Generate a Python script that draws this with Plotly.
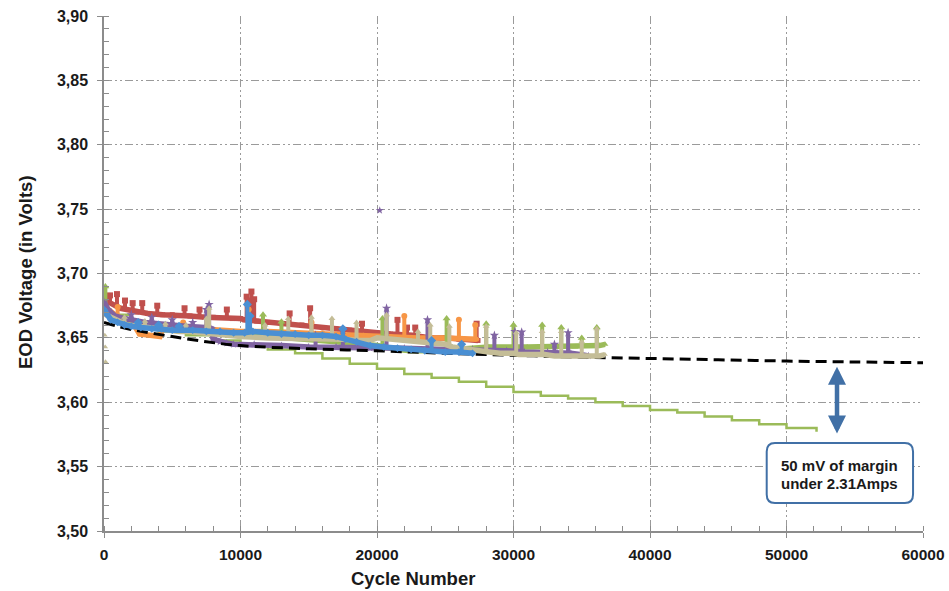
import numpy as np
import plotly.graph_objects as go

# ---------------- data ----------------
x_tick_values = [0, 10000, 20000, 30000, 40000, 50000, 60000]
x_tick_labels = ["0", "10000", "20000", "30000", "40000", "50000", "60000"]
y_tick_values = [3.50, 3.55, 3.60, 3.65, 3.70, 3.75, 3.80, 3.85, 3.90]
y_tick_labels = ["3,50", "3,55", "3,60", "3,65", "3,70", "3,75", "3,80", "3,85", "3,90"]

# --- red series: band + spikes
red_cycles = [0, 300, 1200, 2400, 3200, 4300, 5000, 6300, 7400, 8000, 9400, 10000, 10300, 11200, 12000,
              13000, 14500, 16000, 17000, 18000, 20000, 21000, 22500, 23200, 24000, 25000, 26000, 27400]
red_volts = [3.685, 3.678, 3.673, 3.670, 3.669, 3.668, 3.668, 3.667, 3.666, 3.666, 3.665, 3.665, 3.664, 3.663, 3.662,
             3.661, 3.660, 3.658, 3.657, 3.656, 3.654, 3.653, 3.652, 3.651, 3.650, 3.650, 3.649, 3.648]
red_spike_cycles = [440, 950, 1540, 2100, 2800, 3900, 5900, 7000, 9000, 10450, 10650, 10800, 11000, 13600,
                    15100, 18900, 21500, 22200, 22800, 27300]
red_spike_volts = [3.683, 3.684, 3.679, 3.677, 3.677, 3.675, 3.673, 3.672, 3.672, 3.682, 3.679, 3.686, 3.680, 3.669,
                   3.673, 3.661, 3.664, 3.658, 3.658, 3.661]

# --- orange series
orange_cycles = [0, 300, 800, 1500, 2200, 2600, 4100, 4300, 5000, 7000, 8000, 10000, 12000, 14000, 16000,
                 17000, 19000, 21000, 23000, 25000, 27300]
orange_volts = [3.676, 3.672, 3.668, 3.664, 3.660, 3.653, 3.651, 3.657, 3.658, 3.657, 3.656, 3.655, 3.655, 3.654, 3.654,
                3.653, 3.652, 3.651, 3.650, 3.650, 3.649]
orange_spike_cycles = [1000, 5800, 10600, 15200, 22000, 26000, 27200]
orange_spike_volts = [3.674, 3.662, 3.672, 3.662, 3.667, 3.664, 3.660]

# --- green marker series
green_cycles = [0, 500, 1000, 2000, 3000, 4000, 5000, 6000, 7000, 9000, 11000, 12500, 14000, 15000, 16000,
                17000, 18000, 19000, 20000, 21500, 22500, 24500, 26000, 27000, 28200, 31000, 34500, 36300, 36700]
green_volts = [3.675, 3.668, 3.664, 3.661, 3.659, 3.657, 3.656, 3.655, 3.654, 3.653, 3.652, 3.651, 3.650, 3.649, 3.648,
               3.647, 3.646, 3.645, 3.644, 3.641, 3.640, 3.640, 3.641, 3.642, 3.643, 3.643, 3.643, 3.644, 3.645]
green_spike_cycles = [100, 11650, 13000, 20400, 25100, 28000, 30000, 32100, 33500, 35000, 36100]
green_spike_volts = [3.690, 3.668, 3.6625, 3.665, 3.665, 3.661, 3.660, 3.660, 3.658, 3.650, 3.658]

# --- purple series
purple_cycles = [0, 300, 800, 1500, 3000, 4500, 6000, 7400, 7900, 8000, 8500, 9000, 9500, 11000, 13000, 15000,
                 17000, 19500, 22000, 25000, 27000, 28000, 29500, 30800, 32500, 33200, 34200, 35000, 35500]
purple_volts = [3.678, 3.672, 3.667, 3.665, 3.662, 3.660, 3.659, 3.658, 3.657, 3.649, 3.647, 3.646, 3.645, 3.645,
                3.644, 3.643, 3.643, 3.642, 3.642, 3.641, 3.641, 3.640, 3.640, 3.639, 3.639, 3.638, 3.638,
                3.637, 3.636]
purple_spike_cycles = [2000, 3500, 5000, 6500, 7500, 7700, 15500, 17500, 20700, 23700, 28600, 30100, 30600,
                       33000, 34000]
purple_spike_volts = [3.668, 3.666, 3.664, 3.662, 3.672, 3.676, 3.652, 3.656, 3.673, 3.664, 3.652, 3.655, 3.6545,
                      3.645, 3.654]
purple_outlier_cycles = [20200]
purple_outlier_volts = [3.749]

# --- tan series
tan_cycles = [0, 150, 500, 1000, 1700, 2500, 3200, 4000, 4700, 5500, 6200, 7000, 8100, 9000, 10000, 12000,
              14500, 16000, 17500, 18700, 19500, 20000, 22500, 23200, 24100, 25000, 25500, 26500, 27500,
              28200, 29000, 30000, 30400, 32300, 33000, 36300, 36700]
tan_volts = [3.672, 3.668, 3.666, 3.663, 3.660, 3.659, 3.658, 3.657, 3.656, 3.655, 3.655, 3.654, 3.653, 3.652, 3.651,
             3.650, 3.650, 3.649, 3.649, 3.648, 3.648, 3.650, 3.648, 3.647, 3.646, 3.645, 3.643, 3.641, 3.640,
             3.639, 3.638, 3.638, 3.637, 3.637, 3.636, 3.636, 3.637]
tan_spike_cycles = [1500, 3000, 4500, 6000, 7500, 7700, 11800, 13500, 15200, 16700, 18500, 20700, 23000,
                    23900, 25300, 28000, 30200, 32100, 33500, 35000, 36100]
tan_spike_volts = [3.666, 3.663, 3.661, 3.660, 3.665, 3.673, 3.660, 3.665, 3.666, 3.665, 3.662, 3.668, 3.655,
                   3.660, 3.659, 3.659, 3.654, 3.655, 3.655, 3.647, 3.657]
tan_outlier_cycles = [60, 90, 110]
tan_outlier_volts = [3.652, 3.643, 3.6315]

# --- blue series
blue_cycles = [0, 200, 500, 1000, 1500, 2000, 2700, 3500, 4200, 5000, 6500, 7500, 8500, 9500, 10300, 10900,
               12000, 13000, 14000, 15000, 16000, 17000, 17700, 18500, 19500, 20500, 21500, 22500, 23500,
               25000, 26000, 27000]
blue_volts = [3.672, 3.668, 3.664, 3.662, 3.660, 3.659, 3.658, 3.657, 3.657, 3.656, 3.656, 3.655, 3.655, 3.654,
              3.654, 3.655, 3.654, 3.653, 3.653, 3.652, 3.652, 3.651, 3.649, 3.647, 3.644, 3.643, 3.642,
              3.641, 3.640, 3.639, 3.639, 3.638]
blue_spike_cycles = [2500, 4000, 5500, 10500, 10700, 17500, 24000, 26200]
blue_spike_volts = [3.662, 3.660, 3.659, 3.676, 3.667, 3.657, 3.648, 3.645]

# --- long-running green cell (stepped line)
green_line_cycles = [0, 2000, 4000, 6000, 8000, 10000, 12000, 14000, 16000, 18000, 20000, 22000, 24000,
                     26000, 28000, 30000, 32000, 34000, 36000, 38000, 40000, 42000, 44000, 46000, 48000,
                     50000, 52200]
green_line_volts = [3.668, 3.660, 3.655, 3.652, 3.648, 3.644, 3.641, 3.638, 3.634, 3.630, 3.626, 3.622, 3.619,
                    3.616, 3.612, 3.608, 3.605, 3.603, 3.600, 3.597, 3.594, 3.592, 3.589, 3.586, 3.583,
                    3.580, 3.577]

# --- dashed trend line
trend_cycles = [0, 1000, 2000, 3000, 5000, 7500, 10000, 15000, 20000, 25000, 30000, 35000, 40000, 45000,
                50000, 55000, 60000]
trend_volts = [3.662, 3.659, 3.6565, 3.6545, 3.651, 3.647, 3.644, 3.6415, 3.640, 3.638, 3.6365, 3.635, 3.634,
               3.633, 3.632, 3.6313, 3.6307]

margin_arrow_cycle = 53700
margin_arrow_top = 3.6275
margin_arrow_bottom = 3.5745
note_lines = ["50 mV of margin", "under 2.31Amps"]

# ---------------- figure ----------------
FONT = "Liberation Sans, Arial, sans-serif"
C_RED = "#C0504D"
C_ORANGE = "#F79646"
C_GREEN = "#9BBB59"
C_PURPLE = "#8064A2"
C_TAN = "#C4BD97"
C_BLUE = "#4A8FD3"
C_ARROW = "#4170A6"

fig = go.Figure()

fig.add_trace(go.Scatter(x=green_line_cycles, y=green_line_volts, mode="lines", line_shape="hv",
                         line=dict(color=C_GREEN, width=2.5), hoverinfo="skip"))


def series(xs, ys, sx, sy, color, symbol, size=6):
    # thick band of the cell's readings
    fig.add_trace(go.Scatter(x=xs, y=ys, mode="lines+markers", line=dict(color=color, width=5.5),
                             marker=dict(color=color, symbol=symbol, size=size, line=dict(width=0))))
    # spikes: vertical strokes from the band up to the peak reading
    depth = [p - b for p, b in zip(sy, np.interp(sx, xs, ys))]
    fig.add_trace(go.Scatter(x=sx, y=sy, mode="markers",
                             marker=dict(color=color, symbol=symbol, size=size + 1, line=dict(width=0)),
                             error_y=dict(type="data", symmetric=False, array=[0] * len(sy),
                                          arrayminus=depth, color=color, thickness=4, width=0)))


series(red_cycles, red_volts, red_spike_cycles, red_spike_volts, C_RED, "square", 5)
series(orange_cycles, orange_volts, orange_spike_cycles, orange_spike_volts, C_ORANGE, "circle", 5)
series(green_cycles, green_volts, green_spike_cycles, green_spike_volts, C_GREEN, "triangle-up", 6)
series(purple_cycles, purple_volts, purple_spike_cycles, purple_spike_volts, C_PURPLE, "star", 6)

fig.add_trace(go.Scatter(x=trend_cycles, y=trend_volts, mode="lines", line_shape="spline",
                         line=dict(color="black", width=3, dash="11px,6px")))

series(tan_cycles, tan_volts, tan_spike_cycles, tan_spike_volts, C_TAN, "triangle-up", 5)
series(blue_cycles, blue_volts, blue_spike_cycles, blue_spike_volts, C_BLUE, "diamond", 6)

fig.add_trace(go.Scatter(x=tan_outlier_cycles, y=tan_outlier_volts, mode="markers",
                         marker=dict(color=C_TAN, symbol="triangle-up", size=5)))
fig.add_trace(go.Scatter(x=purple_outlier_cycles, y=purple_outlier_volts, mode="markers",
                         marker=dict(color=C_PURPLE, symbol="star", size=6)))

grid_dash = "8px,3px,2px,3px,2px,3px"
axis_col = "#8C8C8C"

fig.update_xaxes(range=[0, 60000], tickmode="array", tickvals=x_tick_values, ticktext=x_tick_labels,
                 automargin=False,
                 showgrid=True, gridcolor="#9A9A9A", gridwidth=1.2, griddash=grid_dash,
                 showline=True, linecolor=axis_col, linewidth=1.5, zeroline=False,
                 ticks="outside", ticklen=5, tickcolor=axis_col, tickwidth=1.2,
                 ticklabelstandoff=4,
                 tickfont=dict(family=FONT, size=15.5, color="#1A1A1A", weight="bold"),
                 minor=dict(tickmode="linear", tick0=0, dtick=2000, ticks="inside", ticklen=5,
                            tickcolor=axis_col, tickwidth=1, showgrid=False))
fig.update_yaxes(range=[3.5, 3.9], tickmode="array", tickvals=y_tick_values, ticktext=y_tick_labels,
                 automargin=False,
                 showgrid=True, gridcolor="#9A9A9A", gridwidth=1.2, griddash=grid_dash,
                 showline=True, linecolor=axis_col, linewidth=1.5, zeroline=False,
                 ticks="outside", ticklen=5, tickcolor=axis_col, tickwidth=1.2,
                 ticklabelstandoff=6,
                 tickfont=dict(family=FONT, size=16, color="#1A1A1A", weight="bold"),
                 minor=dict(tickmode="linear", tick0=3.5, dtick=0.01, ticks="inside", ticklen=5,
                            tickcolor=axis_col, tickwidth=1, showgrid=False))

# rounded note box (pixel-sized corners converted to data units)
bx0, bx1, by0, by1 = 48550, 59270, 3.5217, 3.5683
rx, ry = 600, 0.0066
path = (f"M {bx0+rx},{by1} L {bx1-rx},{by1} Q {bx1},{by1} {bx1},{by1-ry} "
        f"L {bx1},{by0+ry} Q {bx1},{by0} {bx1-rx},{by0} L {bx0+rx},{by0} "
        f"Q {bx0},{by0} {bx0},{by0+ry} L {bx0},{by1-ry} Q {bx0},{by1} {bx0+rx},{by1} Z")
fig.add_shape(type="path", path=path, xref="x", yref="y", line=dict(color=C_ARROW, width=2),
              fillcolor="white", layer="above")

fig.add_annotation(x=53900, y=3.5509, xref="x", yref="y", text=note_lines[0], showarrow=False,
                   font=dict(family=FONT, size=15, color="#1A1A1A", weight="bold"))
fig.add_annotation(x=53900, y=3.5370, xref="x", yref="y", text=note_lines[1], showarrow=False,
                   font=dict(family=FONT, size=15, color="#1A1A1A", weight="bold"))

fig.add_annotation(x=margin_arrow_cycle, y=margin_arrow_top, ax=margin_arrow_cycle, ay=margin_arrow_bottom,
                   xref="x", yref="y", axref="x", ayref="y", text="", showarrow=True,
                   arrowhead=2, startarrowhead=2, arrowside="end+start", arrowsize=0.8,
                   startarrowsize=0.8, arrowwidth=4.5, arrowcolor=C_ARROW)

# axis titles
fig.add_annotation(x=(413 - 104) / 819, y=(531 - 578) / 515, xref="paper", yref="paper",
                   text="Cycle Number", showarrow=False, xanchor="center", yanchor="middle",
                   font=dict(family=FONT, size=18.5, color="#1A1A1A", weight="bold"))
fig.add_annotation(x=(25 - 104) / 819, y=(531 - 272) / 515, xref="paper", yref="paper",
                   text="EOD Voltage (in Volts)", textangle=-90, showarrow=False,
                   xanchor="center", yanchor="middle",
                   font=dict(family=FONT, size=18.5, color="#1A1A1A", weight="bold"))

fig.update_layout(width=949, height=591, margin=dict(l=104, r=26, t=16, b=60),
                  plot_bgcolor="white", paper_bgcolor="white", showlegend=False,
                  font=dict(family=FONT))

fig.write_html("out.html")
